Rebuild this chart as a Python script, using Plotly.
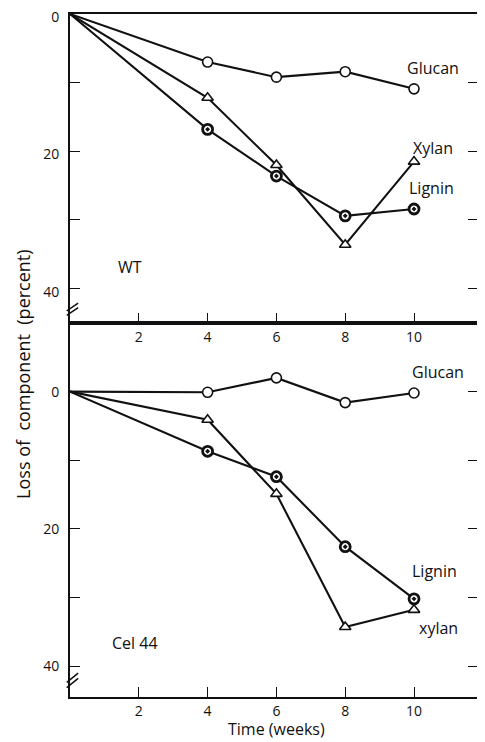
import plotly.graph_objects as go

weeks = [0, 4, 6, 8, 10]

wt_glucan = [0, 7.0, 9.2, 8.4, 10.9]
wt_xylan = [0, 12.2, 22.0, 33.6, 21.5]
wt_lignin = [0, 16.8, 23.6, 29.4, 28.4]

cel_glucan = [0, 0.1, -2.0, 1.6, 0.2]
cel_xylan = [0, 4.1, 14.9, 34.3, 31.8]
cel_lignin = [0, 8.7, 12.4, 22.6, 30.2]

ytick_vals = [0, 10, 20, 30, 40]
ytick_text = ["0", "", "20", "", "40"]
xtick_vals = [2, 4, 6, 8, 10]

FONT = "Open Sans"
INK = "#111111"

fig = go.Figure()

def add_series(x, y, symbol, yaxis, xaxis, fill="white", lw=1.6):
    fig.add_trace(go.Scatter(x=x, y=y, mode="lines", line=dict(color=INK, width=2.1),
                             xaxis=xaxis, yaxis=yaxis, showlegend=False, hoverinfo="skip"))
    fig.add_trace(go.Scatter(x=x[1:], y=y[1:], mode="markers",
                             marker=dict(symbol=symbol, size=10, color=fill,
                                         line=dict(color=INK, width=lw)),
                             xaxis=xaxis, yaxis=yaxis, showlegend=False))

# top panel (WT)
add_series(weeks, wt_glucan, "circle", "y", "x")
add_series(weeks, wt_xylan, "triangle-up", "y", "x")
add_series(weeks, wt_lignin, "circle-dot", "y", "x", fill="white", lw=2.8)
# bottom panel (Cel 44)
add_series(weeks, cel_glucan, "circle", "y2", "x2")
add_series(weeks, cel_xylan, "triangle-up", "y2", "x2")
add_series(weeks, cel_lignin, "circle-dot", "y2", "x2", fill="white", lw=2.8)

axis_common = dict(showline=True, linecolor=INK, linewidth=1.8, ticks="inside",
                   ticklen=10, tickwidth=1.4, tickcolor=INK, showgrid=False, zeroline=False,
                   automargin=False, ticklabeloverflow="allow",
                   tickfont=dict(family=FONT, size=14, color=INK))

# page body has an 8px margin, so the figure is sized/placed to compensate
fig.update_layout(
    width=477, height=734,
    margin=dict(l=62, r=7, t=6, b=45),
    paper_bgcolor="white", plot_bgcolor="white",
    xaxis=dict(domain=[0, 1], range=[0, 11.86], tickvals=xtick_vals, mirror=True,
               anchor="y", **axis_common),
    yaxis=dict(domain=[0.5476, 1], range=[45, 0], tickvals=ytick_vals, ticktext=ytick_text,
               mirror="ticks", anchor="x", ticklabelstandoff=6, ticklabelshift=-3, **axis_common),
    xaxis2=dict(domain=[0, 1], range=[0, 11.86], tickvals=xtick_vals, mirror=True,
                anchor="y2", **axis_common),
    yaxis2=dict(domain=[0, 0.5476], range=[44.5, -10], tickvals=ytick_vals, ticktext=ytick_text,
                mirror="ticks", anchor="x2", ticklabelstandoff=6, **axis_common),
)

label_font = dict(family=FONT, size=16, color=INK)
annos = [
    ("Glucan", 10.55, 7.9, "x", "y"),
    ("Xylan", 10.55, 19.5, "x", "y"),
    ("Lignin", 10.5, 25.3, "x", "y"),
    ("WT", 1.75, 36.8, "x", "y"),
    ("Glucan", 10.7, -2.9, "x2", "y2"),
    ("Lignin", 10.6, 26.2, "x2", "y2"),
    ("xylan", 10.7, 34.5, "x2", "y2"),
    ("Cel 44", 1.9, 36.6, "x2", "y2"),
]
for text, x, y, xr, yr in annos:
    fig.add_annotation(text=text, x=x, y=y, xref=xr, yref=yr, showarrow=False,
                       font=label_font, xanchor="center", yanchor="middle")

fig.add_annotation(text="Loss of  component  (percent)", textangle=-90, x=-0.117, y=0.472,
                   xref="paper", yref="paper", showarrow=False,
                   font=dict(family=FONT, size=18, color=INK), xanchor="center", yanchor="middle")
fig.add_annotation(text="Time (weeks)", x=0.505, y=-0.047, xref="paper", yref="paper",
                   showarrow=False, font=dict(family=FONT, size=16, color=INK),
                   xanchor="center", yanchor="middle")

# axis break marks
for yd in ["y domain", "y2 domain"]:
    for off in [0.0, 0.014]:
        fig.add_shape(type="line", xref="x domain", yref=yd,
                      x0=-0.008, x1=0.02, y0=0.025 + off, y1=0.05 + off,
                      line=dict(color=INK, width=1.5))

fig.write_html("out.html")
